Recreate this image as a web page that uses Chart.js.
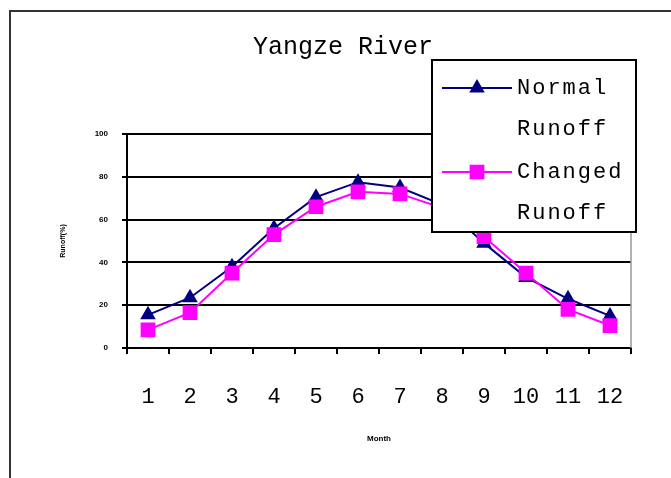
<!DOCTYPE html>
<html>
<head>
<meta charset="utf-8">
<script src="https://cdn.jsdelivr.net/npm/chart.js@4"></script>
<style>
  html, body { margin: 0; padding: 0; background: #fff; overflow: hidden; }
  #wrap { position: relative; width: 671px; height: 478px; }
  #frame { position: absolute; left: 9px; top: 10px; width: 700px; height: 520px; border: 2px solid #333; box-sizing: border-box; pointer-events: none; }
  canvas { position: absolute; left: 0; top: 0; }
</style>
</head>
<body>
<div id="wrap">
  <canvas id="c" width="671" height="478"></canvas>
  <div id="frame"></div>
</div>
<script>
// Monthly runoff share along the Yangze River
const months = ['1', '2', '3', '4', '5', '6', '7', '8', '9', '10', '11', '12'];
const normalRunoff = [15.5, 23.5, 38, 56, 70.5, 77.5, 75, 67, 49, 33, 23, 15];
const changedRunoff = [8.5, 16.5, 35, 53, 66, 73, 72, 65.5, 52, 35, 18, 10.5];
const yTicks = [0, 20, 40, 60, 80, 100];

const MONO = '"Liberation Mono", "Courier New", monospace';

// Boxed legend drawn over the top-right of the plot
const boxLegend = {
  id: 'boxLegend',
  afterDraw(chart) {
    const ctx = chart.ctx;
    const x = 432, y = 60, w = 204, h = 172;
    ctx.save();
    ctx.fillStyle = '#fff';
    ctx.fillRect(x, y, w, h);
    ctx.strokeStyle = '#000';
    ctx.lineWidth = 2;
    ctx.strokeRect(x, y, w, h);
    const rows = [
      { ds: chart.data.datasets[0], y: 88 },
      { ds: chart.data.datasets[1], y: 172 }
    ];
    rows.forEach(r => {
      ctx.strokeStyle = r.ds.borderColor;
      ctx.lineWidth = 2;
      ctx.beginPath();
      ctx.moveTo(442, r.y);
      ctx.lineTo(512, r.y);
      ctx.stroke();
      ctx.fillStyle = r.ds.pointBackgroundColor;
      ctx.strokeStyle = r.ds.pointBorderColor;
      Chart.helpers.drawPoint(ctx, {
        pointStyle: r.ds.pointStyle,
        radius: r.ds.pointRadius,
        borderWidth: 1
      }, 477, r.y);
      ctx.fillStyle = '#000';
      ctx.font = '22px ' + MONO;
      ctx.letterSpacing = '2px';
      ctx.textBaseline = 'middle';
      ctx.textAlign = 'left';
      const parts = r.ds.label.split(' ');
      ctx.fillText(parts[0], 517, r.y);
      ctx.fillText(parts[1], 517, r.y + 41);
    });
    ctx.restore();
  }
};

// Light right-hand edge of the plot area
const plotEdge = {
  id: 'plotEdge',
  beforeDatasetsDraw(chart) {
    const { ctx, chartArea: a } = chart;
    ctx.save();
    ctx.strokeStyle = '#999';
    ctx.lineWidth = 1.5;
    ctx.beginPath();
    ctx.moveTo(a.right, a.top);
    ctx.lineTo(a.right, a.bottom);
    ctx.stroke();
    ctx.restore();
  }
};

new Chart(document.getElementById('c'), {
  type: 'line',
  data: {
    labels: months,
    datasets: [
      {
        label: 'Normal Runoff',
        data: normalRunoff,
        borderColor: '#000080',
        backgroundColor: '#000080',
        pointBackgroundColor: '#000080',
        pointBorderColor: '#000080',
        pointStyle: 'triangle',
        pointRadius: 7,
        borderWidth: 2,
        tension: 0,
        order: 1
      },
      {
        label: 'Changed Runoff',
        data: changedRunoff,
        borderColor: '#ff00ff',
        backgroundColor: '#ff00ff',
        pointBackgroundColor: '#ff00ff',
        pointBorderColor: '#ff00ff',
        pointStyle: 'rect',
        pointRadius: 9,
        borderWidth: 2,
        tension: 0,
        order: 0
      }
    ]
  },
  options: {
    responsive: false,
    animation: false,
    devicePixelRatio: 1,
    layout: { padding: { left: 55, right: 40, top: 20, bottom: 10 } },
    plugins: {
      legend: { display: false },
      tooltip: { enabled: false },
      title: {
        display: true,
        text: 'Yangze River',
        color: '#000',
        font: { family: MONO, size: 25, weight: 'normal' },
        padding: { top: 12, bottom: 72 }
      }
    },
    scales: {
      x: {
        offset: true,
        afterFit(s) { s.height = 120; },
        grid: {
          offset: true,
          drawOnChartArea: false,
          drawTicks: true,
          tickLength: 6,
          color: '#000',
          lineWidth: 2
        },
        border: { display: true, color: '#000', width: 2 },
        ticks: {
          color: '#000',
          padding: 30,
          font: { family: MONO, size: 22 }
        },
        title: {
          display: true,
          text: 'Month',
          color: '#000',
          font: { family: '"Liberation Sans", Arial, sans-serif', size: 8, weight: 'bold' },
          padding: { top: 0, bottom: 24 }
        }
      },
      y: {
        min: 0,
        max: 100,
        afterFit(s) { s.width = 72; },
        afterBuildTicks(s) { s.ticks = yTicks.map(v => ({ value: v })); },
        grid: {
          color: '#000',
          lineWidth: 2,
          drawTicks: true,
          tickLength: 5
        },
        border: { display: true, color: '#000', width: 2 },
        ticks: {
          color: '#000',
          padding: 14,
          font: { family: '"Liberation Sans", Arial, sans-serif', size: 8, weight: 'bold' }
        },
        title: {
          display: true,
          text: 'Runoff(%)',
          color: '#000',
          font: { family: '"Liberation Sans", Arial, sans-serif', size: 7, weight: 'bold' },
          padding: { top: 4, bottom: 0 }
        }
      }
    }
  },
  plugins: [plotEdge, boxLegend]
});
</script>
</body>
</html>
